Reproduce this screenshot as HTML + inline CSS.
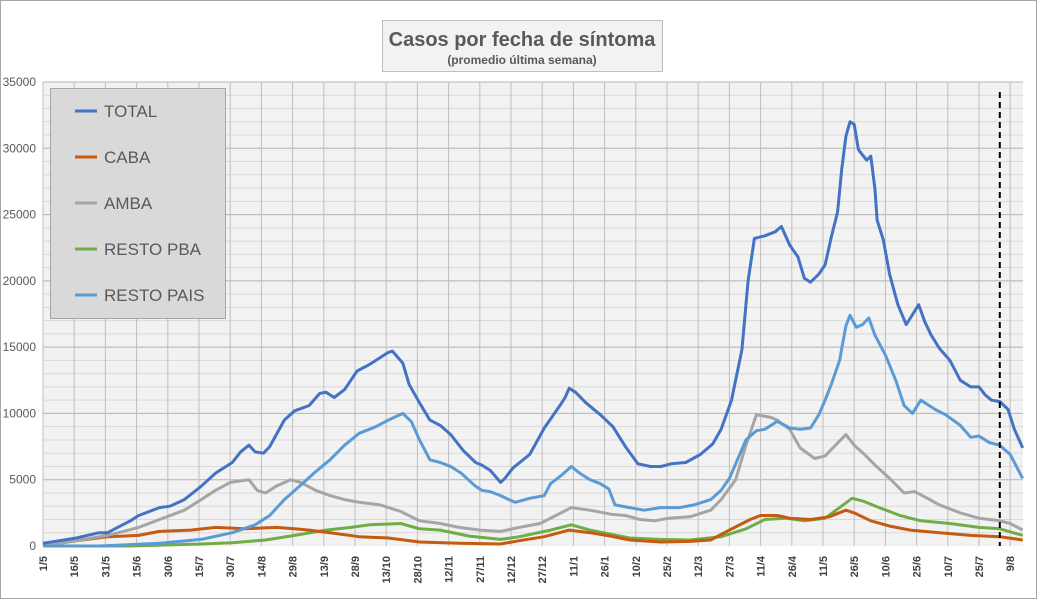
<!DOCTYPE html>
<html><head><meta charset="utf-8"><style>
html,body{margin:0;padding:0;background:#fff}
svg{display:block;font-family:"Liberation Sans",sans-serif}
</style></head><body>
<svg id="chart" width="1037" height="599" viewBox="0 0 1037 599" xmlns="http://www.w3.org/2000/svg">
<rect x="0.5" y="0.5" width="1036" height="598" fill="#fff" stroke="#a6a6a6"/>
<rect x="43" y="82" width="980" height="464" fill="#f2f2f2"/>
<g id="grid"></g>
<g id="yaxis"></g>
<g id="xaxis"></g>
<g id="series"></g>
<line id="cutoff" stroke="#000" stroke-width="2" stroke-dasharray="6,4"/>
<g>
<rect x="382.5" y="20.5" width="280" height="51" fill="#f2f2f2" stroke="#bfbfbf"/>
<text x="522" y="46" text-anchor="middle" font-size="20" font-weight="bold" fill="#595959">Casos por fecha de síntoma</text>
<text x="522" y="64" text-anchor="middle" font-size="12" font-weight="bold" fill="#595959">(promedio última semana)</text>
</g>
<g id="legend">
<rect x="50.5" y="88.5" width="175" height="230" fill="#d9d9d9" stroke="#a6a6a6"/>
</g>
</svg>
<script>
const tickLabels=["1/5","16/5","31/5","15/6","30/6","15/7","30/7","14/8","29/8","13/9","28/9","13/10","28/10","12/11","27/11","12/12","27/12","11/1","26/1","10/2","25/2","12/3","27/3","11/4","26/4","11/5","26/5","10/6","25/6","10/7","25/7","9/8"];
const yTicks=[0,5000,10000,15000,20000,25000,30000,35000];
const seriesNames=["TOTAL","CABA","AMBA","RESTO PBA","RESTO PAIS"];
const cutoffDay=460;

const totalDays=[0,16,27,31,42,46,56,61,68,76,83,91,95,99,102,106,109,116,121,128,133,136,140,145,151,157,162,166,168,173,176,181,186,191,196,202,208,211,215,220,222,226,234,241,249,251,253,256,261,268,274,280,286,292,297,302,309,316,322,326,331,336,339,342,347,352,355,359,363,366,369,373,376,379,382,384,386,388,390,392,394,396,398,400,401,404,407,411,415,417,421,424,427,431,436,441,446,450,453,456,460,464,467,471];
const totalVals=[200,600,1000,1000,1900,2300,2900,3000,3500,4500,5500,6300,7100,7600,7100,7000,7500,9500,10200,10600,11500,11600,11200,11800,13200,13700,14200,14600,14700,13800,12200,10800,9500,9100,8400,7200,6300,6100,5700,4800,5100,5900,6900,8900,10700,11200,11900,11600,10800,9900,9000,7500,6200,6000,6000,6200,6300,6900,7700,8800,11000,14800,20000,23200,23400,23700,24100,22700,21800,20200,19900,20500,21200,23300,25200,28400,30900,32000,31800,29900,29500,29100,29400,26900,24600,23100,20500,18200,16700,17200,18200,16900,15900,14900,14000,12500,12000,12000,11400,11000,10900,10300,8800,7400];

const paisDays=[0,27,56,76,91,102,109,116,124,131,138,145,152,160,166,173,177,181,186,191,196,201,208,211,215,220,224,227,234,241,244,249,254,258,263,268,272,275,282,289,297,306,313,321,326,330,338,343,347,353,359,364,369,373,376,379,383,386,388,391,394,397,400,405,410,414,418,422,426,429,434,441,446,450,455,460,465,471];
const paisVals=[0,0,200,500,1000,1600,2300,3500,4600,5600,6500,7600,8500,9000,9500,10000,9400,8000,6500,6300,6000,5500,4500,4200,4100,3800,3500,3300,3600,3800,4700,5300,6000,5500,5000,4700,4300,3100,2900,2700,2900,2900,3100,3500,4200,5100,8000,8700,8800,9400,8900,8800,8900,9900,11000,12200,14000,16600,17400,16500,16700,17200,15900,14400,12500,10600,10000,11000,10600,10300,9900,9100,8200,8300,7800,7600,6900,5100];

const ambaDays=[0,16,31,46,56,68,76,83,90,99,103,107,112,119,124,131,138,145,152,162,172,181,191,200,210,220,229,239,249,254,263,273,280,287,294,301,311,321,326,333,338,343,350,353,359,364,371,376,381,386,390,395,400,407,414,419,424,431,441,450,460,465,471];
const ambaVals=[0,400,800,1400,2000,2700,3500,4200,4800,5000,4200,4000,4500,5000,4800,4200,3800,3500,3300,3100,2600,1900,1700,1400,1200,1100,1400,1700,2500,2900,2700,2400,2300,2000,1900,2100,2200,2700,3500,5000,7600,9900,9700,9500,8800,7400,6600,6800,7600,8400,7600,6900,6100,5100,4000,4100,3700,3100,2500,2100,1900,1700,1200];

const cabaDays=[0,16,31,46,56,71,83,97,112,121,128,138,152,166,181,200,220,229,241,253,263,273,282,297,311,321,330,340,345,353,359,369,378,386,390,398,407,417,431,446,460,471];
const cabaVals=[0,400,700,800,1100,1200,1400,1300,1400,1300,1200,1000,700,600,300,200,150,400,700,1200,1000,750,450,300,350,450,1200,2000,2300,2300,2100,2000,2200,2700,2500,1900,1500,1200,1000,800,700,450];

const pbaDays=[0,42,76,91,107,121,136,148,157,172,181,191,205,220,229,244,254,263,282,297,311,326,338,347,357,366,376,383,389,394,402,412,422,436,450,460,471];
const pbaVals=[0,0,150,250,450,800,1200,1400,1600,1700,1300,1200,750,500,700,1200,1600,1200,600,500,450,700,1300,2000,2100,1900,2100,2900,3600,3400,2900,2300,1900,1700,1400,1300,800];

const X0=43,PXDAY=2.08,Y0=546,PXVAL=464/35000;
const xS=d=>X0+d*PXDAY, yS=v=>Y0-v*PXVAL;
const NS="http://www.w3.org/2000/svg";
function mk(tag,attrs,parent){const e=document.createElementNS(NS,tag);for(const k in attrs)e.setAttribute(k,attrs[k]);parent.appendChild(e);return e;}
const grid=document.getElementById('grid'),yax=document.getElementById('yaxis'),xax=document.getElementById('xaxis'),ser=document.getElementById('series');
for(let v=1000;v<=35000;v+=1000){
  const l=mk('line',{x1:43,x2:1023,y1:yS(v),y2:yS(v),stroke:v%5000===0?'#b3b3b3':'#d9d9d9','stroke-width':1},grid);
  
  
}
tickLabels.forEach((t,i)=>{
  const x=xS(i*15);
  const l=mk('line',{x1:x,x2:x,y1:82,y2:546,stroke:'#bfbfbf','stroke-width':1},grid);
  
  
  const tx=mk('text',{x:0,y:0,transform:`translate(${x+4},556) rotate(-90)`,'text-anchor':'end','font-size':11,'font-weight':'bold',fill:'#404040'},xax);
  tx.textContent=t;
  
  
});
yTicks.forEach(v=>{
  const tx=mk('text',{x:36,y:yS(v)+4,'text-anchor':'end','font-size':12,fill:'#595959'},yax);
  tx.textContent=v;
  
  
});
const colors=["#4472c4","#c55a11","#a5a5a5","#70ad47","#5b9bd5"];
const data=[[totalDays,totalVals],[cabaDays,cabaVals],[ambaDays,ambaVals],[pbaDays,pbaVals],[paisDays,paisVals]];
[3,1,2,4,0].forEach(i=>{
  const [d,v]=data[i];
  const pts=d.map((dd,j)=>xS(dd).toFixed(1)+','+yS(v[j]).toFixed(1)).join(' ');
  const p=mk('polyline',{points:pts,fill:'none',stroke:colors[i],'stroke-width':3,'stroke-linejoin':'round'},ser);
  
  
});
const c=document.getElementById('cutoff');
c.setAttribute('x1',xS(cutoffDay));c.setAttribute('x2',xS(cutoffDay));c.setAttribute('y1',92);c.setAttribute('y2',546);
const lg=document.getElementById('legend');
seriesNames.forEach((n,i)=>{
  const y=111+i*46;
  const g=mk('g',{},lg);
  
  
  mk('line',{x1:75,x2:97,y1:y,y2:y,stroke:colors[i],'stroke-width':3},g);
  const t=mk('text',{x:104,y:y+6,'font-size':17,fill:'#595959'},g);
  t.textContent=n;
});
</script>
</body></html>
